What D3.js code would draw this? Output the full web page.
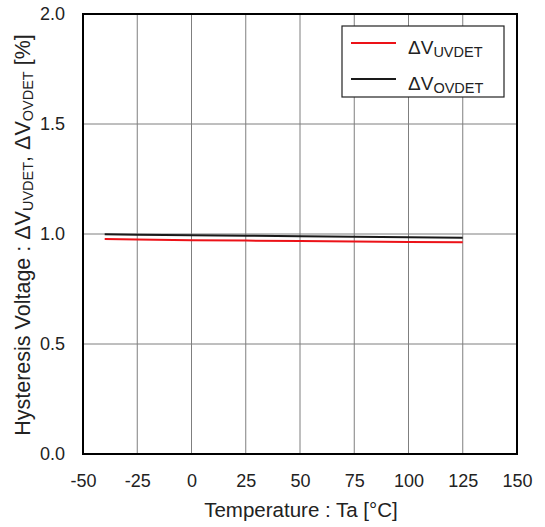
<!DOCTYPE html>
<html><head><meta charset="utf-8">
<script src="https://cdn.jsdelivr.net/npm/d3@7"></script>
<style>body{margin:0;background:#fff}svg{display:block}</style>
</head><body>
<svg id="c" width="545" height="527"></svg>
<script>
const temps = [-40, -25, 0, 25, 50, 75, 100, 125];
const uvdet = [0.977, 0.975, 0.972, 0.970, 0.968, 0.966, 0.964, 0.962];
const ovdet = [0.999, 0.997, 0.994, 0.992, 0.990, 0.988, 0.985, 0.983];
const xTicks = [-50, -25, 0, 25, 50, 75, 100, 125, 150];
const yTicks = [0, 0.5, 1.0, 1.5, 2.0];

const svg = d3.select("#c");
const L = 83, R = 517, T = 14, B = 454;
const x = d3.scaleLinear().domain([-50, 150]).range([L, R]);
const y = d3.scaleLinear().domain([0, 2]).range([B, T]);
const font = "Liberation Sans, Arial, sans-serif";

// grid
svg.append("g").selectAll("line").data(xTicks.slice(1, -1)).join("line")
  .attr("x1", d => x(d)).attr("x2", d => x(d)).attr("y1", T).attr("y2", B)
  .attr("stroke", "#7f7f7f").attr("stroke-width", 1);
svg.append("g").selectAll("line").data(yTicks.slice(1, -1)).join("line")
  .attr("x1", L).attr("x2", R).attr("y1", d => y(d)).attr("y2", d => y(d))
  .attr("stroke", "#7f7f7f").attr("stroke-width", 1);

// axes labels via d3 axes
const xAxis = svg.append("g").attr("transform", `translate(0,${B})`)
  .call(d3.axisBottom(x).tickValues(xTicks).tickSize(0).tickPadding(20).tickFormat(d => String(d)));
xAxis.select(".domain").remove();
xAxis.selectAll("text").attr("font-family", font).attr("font-size", 18).attr("fill", "#222");

const yAxis = svg.append("g").attr("transform", `translate(${L},0)`)
  .call(d3.axisLeft(y).tickValues(yTicks).tickSize(0).tickPadding(18).tickFormat(d => d.toFixed(1)));
yAxis.select(".domain").remove();
yAxis.selectAll("text").attr("font-family", font).attr("font-size", 18).attr("fill", "#222");

// lines
const line = d3.line().x((d, i) => x(temps[i])).y(d => y(d));
svg.append("path").datum(ovdet).attr("d", line).attr("fill", "none")
  .attr("stroke", "#1a1a1a").attr("stroke-width", 2);
svg.append("path").datum(uvdet).attr("d", line).attr("fill", "none")
  .attr("stroke", "#ec1218").attr("stroke-width", 2);

// frame
svg.append("rect").attr("x", L).attr("y", T).attr("width", R - L).attr("height", B - T)
  .attr("fill", "none").attr("stroke", "#000").attr("stroke-width", 2);

// legend
const lg = svg.append("g");
lg.append("rect").attr("x", 342).attr("y", 26).attr("width", 162).attr("height", 71)
  .attr("fill", "#fff").attr("stroke", "#222").attr("stroke-width", 1.2);
const items = [{n: "UVDET", c: "#ec1218", yy: 43}, {n: "OVDET", c: "#1a1a1a", yy: 79}];
items.forEach(it => {
  lg.append("line").attr("x1", 351).attr("x2", 396).attr("y1", it.yy).attr("y2", it.yy)
    .attr("stroke", it.c).attr("stroke-width", 2);
  const t = lg.append("text").attr("x", 408).attr("y", it.yy + 11)
    .attr("font-family", font).attr("font-size", 19).attr("fill", "#222");
  t.append("tspan").text("ΔV");
  t.append("tspan").attr("font-size", 14.5).attr("dy", 3).text(it.n);
});

// x title
svg.append("text").attr("x", 301).attr("y", 517).attr("text-anchor", "middle")
  .attr("font-family", font).attr("font-size", 20.5).attr("fill", "#222")
  .text("Temperature : Ta [°C]");

// y title
const yt = svg.append("text").attr("transform", "translate(30,235) rotate(-90)")
  .attr("text-anchor", "middle").attr("font-family", font).attr("font-size", 21.5).attr("fill", "#222");
yt.append("tspan").text("Hysteresis Voltage : ΔV");
yt.append("tspan").attr("font-size", 14.5).attr("dy", 3).text("UVDET");
yt.append("tspan").attr("dy", -3).text(", ΔV");
yt.append("tspan").attr("font-size", 14.5).attr("dy", 3).text("OVDET");
yt.append("tspan").attr("dy", -3).text(" [%]");
</script>
</body></html>
